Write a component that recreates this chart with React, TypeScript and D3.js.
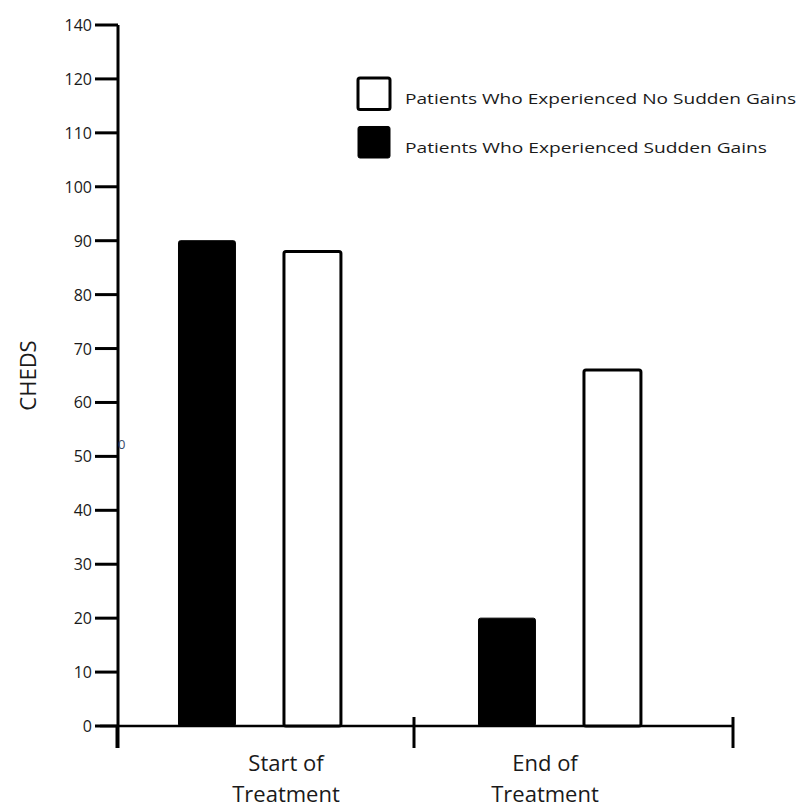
import React from "react";
import * as d3 from "d3";

const categories = ["Start of Treatment", "End of Treatment"];
const categoryLines = [["Start of", "Treatment"], ["End of", "Treatment"]];
const seriesNames = ["Patients Who Experienced Sudden Gains", "Patients Who Experienced No Sudden Gains"];
const suddenGains = [90, 20];
const noSuddenGains = [88, 66];
const yTickValues = [0, 10, 20, 30, 40, 50, 60, 70, 80, 90, 100, 110, 120, 130];
const yTickLabels = ["0", "10", "20", "30", "40", "50", "60", "70", "80", "90", "100", "110", "120", "140"];
const legendOrder = ["Patients Who Experienced No Sudden Gains", "Patients Who Experienced Sudden Gains"];

const W = 801;
const H = 809;
const axisX = 118;
const axisY = 726;
const FONT = "'Open Sans', 'Noto Sans', sans-serif";
const TXT = "#1a1a1a";

export default function App() {
  const y = d3.scaleLinear().domain([0, 130]).range([axisY, 25]);
  const x0 = d3.scaleBand().domain(categories).range([axisX - 1, 717]).paddingInner(0).paddingOuter(0);
  const x1 = d3
    .scaleBand()
    .domain(seriesNames)
    .range([0, x0.bandwidth()])
    .paddingInner(0.46)
    .paddingOuter(0.652)
    .align(0.447);
  const xLabel = d3.scalePoint().domain(categories).range([286, 545]);
  const legendY = d3.scaleBand().domain(legendOrder).range([78, 158]).paddingInner(0.35);

  const values: Record<string, number[]> = {
    [seriesNames[0]]: suddenGains,
    [seriesNames[1]]: noSuddenGains,
  };

  const axisEnd = x0.range()[1] + 16;
  const tickBoundaries = [...categories.map((c) => x0(c)! - (c === categories[1] ? 3 : 0)), axisEnd];

  return (
    <svg width={W} height={H} style={{ position: "absolute", left: 0, top: 0, background: "#fff" }}>
      {/* y axis */}
      <line x1={axisX} x2={axisX} y1={y(130)} y2={748} stroke="#000" strokeWidth={3} />
      {yTickValues.map((v, i) => (
        <g key={v}>
          <line x1={axisX - 23} x2={axisX} y1={y(v)} y2={y(v)} stroke="#000" strokeWidth={3} />
          <text
            x={axisX - 26}
            y={y(v)}
            textAnchor="end"
            dominantBaseline="central"
            fontFamily={FONT}
            fontSize={16}
            fill={TXT}
          >
            {yTickLabels[i]}
          </text>
        </g>
      ))}
      <text x={axisX} y={y(52.3)} fontFamily={FONT} fontSize={13} fill="#3a4a6a" dominantBaseline="central">
        0
      </text>
      {/* x axis */}
      <line x1={axisX - 18} x2={axisEnd} y1={axisY} y2={axisY} stroke="#000" strokeWidth={2.5} />
      {tickBoundaries.map((t, i) => (
        <line key={i} x1={t} x2={t} y1={i === 0 ? axisY : 717} y2={748} stroke="#000" strokeWidth={3} />
      ))}
      {/* bars */}
      {categories.map((c, ci) =>
        seriesNames.map((s, si) => {
          const v = values[s][ci];
          const bx = x0(c)! + x1(s)!;
          const filled = si === 0;
          return (
            <rect
              key={c + s}
              x={bx}
              y={y(v)}
              width={x1.bandwidth()}
              height={axisY - y(v)}
              rx={2}
              fill={filled ? "#000" : "#fff"}
              stroke="#000"
              strokeWidth={filled ? 1 : 3}
            />
          );
        })
      )}
      {/* category labels */}
      {categories.map((c, ci) => (
        <text key={c} x={xLabel(c)} textAnchor="middle" fontFamily={FONT} fontSize={22} fill={TXT}>
          <tspan x={xLabel(c)} y={771}>
            {categoryLines[ci][0]}
          </tspan>
          <tspan x={xLabel(c)} y={802}>
            {categoryLines[ci][1]}
          </tspan>
        </text>
      ))}
      {/* y title */}
      <text
        transform={`translate(36, ${y(65)}) rotate(-90)`}
        textAnchor="middle"
        fontFamily={FONT}
        fontSize={22}
        fill={TXT}
      >
        CHEDS
      </text>
      {/* legend */}
      {legendOrder.map((s, i) => {
        const ly = legendY(s)!;
        const filled = s === seriesNames[0];
        return (
          <g key={s}>
            <rect
              x={358}
              y={ly}
              width={32}
              height={legendY.bandwidth()}
              rx={2}
              fill={filled ? "#000" : "#fff"}
              stroke="#000"
              strokeWidth={filled ? 1 : 3}
            />
            <text
              x={405}
              y={ly + legendY.bandwidth() / 2 + 5}
              fontFamily={FONT}
              fontSize={14}
              fill={TXT}
              dominantBaseline="central"
              textLength={i === 0 ? 391 : 362}
              lengthAdjust="spacingAndGlyphs"
            >
              {s}
            </text>
          </g>
        );
      })}
    </svg>
  );
}
